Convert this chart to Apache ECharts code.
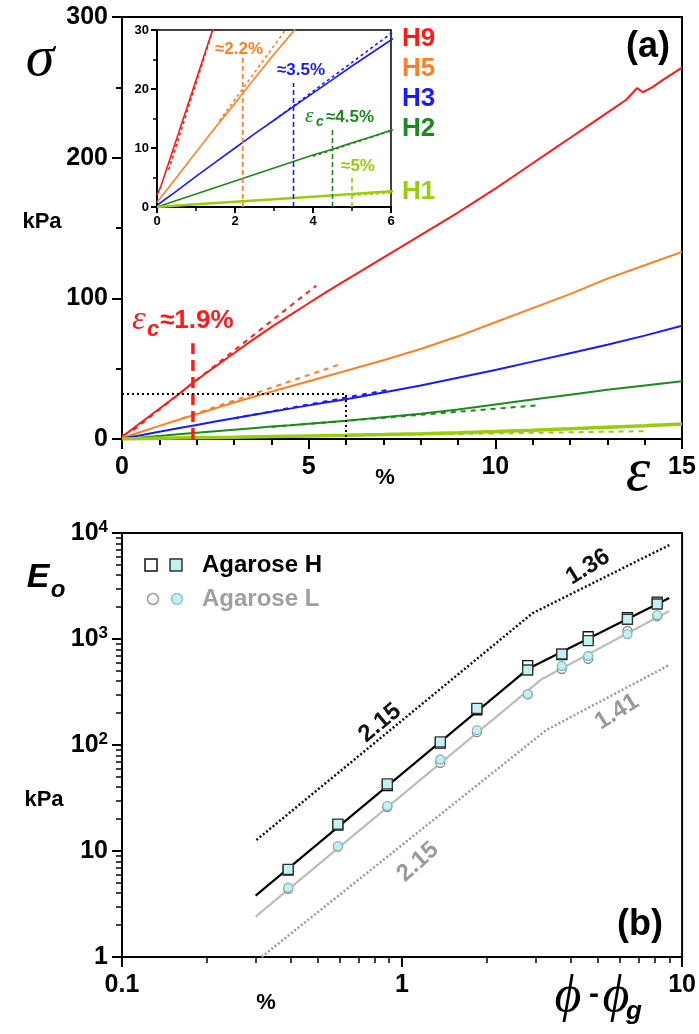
<!DOCTYPE html>
<html>
<head>
<meta charset="utf-8">
<title>Agarose gels: stress-strain and modulus</title>
<script src="https://cdn.jsdelivr.net/npm/echarts@6/dist/echarts.min.js"></script>
<style>
  html, body { margin: 0; padding: 0; background: #fff; }
  #chart { width: 699px; height: 1034px; }
</style>
</head>
<body>
<div id="chart"></div>
<script>
// ---- (a) stress sigma (kPa) vs strain epsilon (%) for gels H9, H5, H3, H2, H1 ----
const H9 = [[0,2],[0.1,3.5],[0.5,11.5],[1,21.5],[1.5,31.5],[1.9,40],[2.5,51.5],[3,61],[3.5,70.5],[4,79.5],[4.5,88],[5,96.5],[5.5,105],[6,113],[6.5,121],[7,129],[7.5,137],[8,145],[8.5,153],[9,161],[9.5,169.5],[10,178],[10.5,187],[11,196],[11.5,205],[12,214],[12.5,223],[13,232],[13.5,241],[13.8,249.5],[13.95,246.5],[14.2,250],[14.5,255.5],[15,264]];
const H5 = [[0,0.8],[0.5,5],[1,9.3],[1.5,13.5],[2,17.6],[2.5,21.8],[3,25.9],[3.5,29.8],[4,33.6],[5,41],[6,48.5],[7,56],[8,64],[9,73],[10,83],[11,93],[12,103],[13,114],[14,123.5],[15,133]];
const H3 = [[0,0.3],[0.5,2.7],[1,5.2],[1.5,7.6],[2,10],[2.5,12.4],[3,14.7],[3.5,17],[4,19.3],[4.5,21.6],[5,23.9],[5.5,26.1],[6,28.3],[7,33],[8,38],[9,43.5],[10,49],[11,55],[12,61],[13,67],[14,73.5],[15,80.5]];
const H2 = [[0,0],[0.5,1.1],[1,2.2],[1.5,3.3],[2,4.4],[2.5,5.5],[3,6.6],[3.5,7.7],[4,8.8],[4.5,9.8],[5,10.9],[5.5,11.9],[6,13],[7,15.5],[8,18],[9,21],[10,24.5],[11,28],[12,31.5],[13,35],[14,38],[15,41]];
const H1 = [[0,0],[1,0.45],[2,0.9],[3,1.3],[4,1.75],[5,2.2],[6,2.65],[7,3.2],[8,3.8],[9,4.5],[10,5.3],[11,6.2],[12,7.2],[13,8.3],[14,9.4],[15,10.6]];

// initial linear (tangent) fits
const tangentH9 = [[0.3,6.3],[5.2,109]];
const tangentH5 = [[1.6,14.6],[5.9,53.7]];
const tangentH3 = [[3,14.7],[7.2,35.3]];
const tangentH2 = [[4,8.6],[11.2,24.1]];
const tangentH1 = [[5,2],[14.1,5.6]];

// critical strain (%) and the height of its marker (kPa), H9, H5, H3, H2, H1
const critStrain = [1.9, 2.2, 3.5, 4.5, 5];
const critMarkTop = [68, 25.8, 21, 13.5, 5.5];

// dotted frame showing the zoomed window
const zoomWindow = [[0,32],[6,32],[6,0]];

const gelNames = ['H9','H5','H3','H2','H1'];

// ---- (b) modulus E_o (kPa) vs phi - phi_g (%) ----
const phiExcess = [0.392, 0.59, 0.886, 1.37, 1.85, 2.81, 3.72, 4.62, 6.38, 8.15];
const modH_open = [6.6, 17.6, 41.5, 104, 215, 560, 712, 1050, 1590, 2230];
const modH_fill = [6.7, 17.9, 42.9, 107, 222, 510, 722, 964, 1535, 2138];
const modL_open = [4.4, 11.0, 26, 68, 132, 300, 521, 650, 1190, 1640];
const modL_fill = [4.5, 11.1, 26.6, 73, 138, 302, 556, 691, 1114, 1683];

const fitH = [[0.3,3.8],[2.81,520],[9.0,2440]];
const fitL = [[0.3,2.4],[3.16,420],[9.0,1840]];
const scalingUpper = [[0.302,12.7],[2.92,1747],[9.0,7700]];
const scalingLower = [[0.315,1],[3.27,138],[9.0,569]];
const slopeTexts = ['2.15', '1.36', '2.15', '1.41'];

const logXLabels = ['0.1', '1', '10'];
const logYLabels = ['1', '10', '10{s|2}', '10{s|3}', '10{s|4}'];
const minorDecadeSteps = [2,3,4,5,6,7,8,9];

// ---- styling ----
const SANS = '"Liberation Sans", Arial, Helvetica, sans-serif';
const SERIF = '"Liberation Serif", "Times New Roman", "DejaVu Serif", serif';
const gelColors = ['#ff1a1a', '#ff7f24', '#1a1aff', '#1c8a1c', '#9acc0a'];
const TICK_FONT = 25;

const chart = echarts.init(document.getElementById('chart'));

function curve(data, color, width, xi, yi, dash, z) {
  return {
    type: 'line', data: data, xAxisIndex: xi, yAxisIndex: yi,
    showSymbol: false, symbol: 'none', silent: true, animation: false,
    lineStyle: { color: color, width: width, type: dash || 'solid' },
    z: z || 2
  };
}

const black = '#000';
function valAxis(grid, min, max, interval, minorSplit, fontSize, opts) {
  const big = fontSize > 16;
  return Object.assign({
    gridIndex: grid, type: 'value', min: min, max: max, interval: interval,
    axisLine: { show: true, onZero: false, lineStyle: { color: black, width: 2 } },
    axisTick: { show: true, length: big ? 10 : 6, lineStyle: { color: black, width: 2 } },
    minorTick: { show: true, splitNumber: minorSplit, length: big ? 6 : 4, lineStyle: { color: black, width: big ? 2 : 1.5 } },
    splitLine: { show: false },
    axisLabel: { color: black, fontFamily: SANS, fontWeight: 'bold', fontSize: fontSize, margin: big ? 16 : 8 }
  }, opts || {});
}

const supRich = { s: { fontSize: 17, fontWeight: 'bold', fontFamily: SANS, color: black, padding: [0, 0, 12, 0], verticalAlign: 'bottom' } };

const logAxisBase = {
  gridIndex: 2, type: 'log', logBase: 10,
  axisLine: { show: true, onZero: false, lineStyle: { color: black, width: 2 } },
  axisTick: { show: true, length: 10, lineStyle: { color: black, width: 2 } },
  splitLine: { show: false }
};

// minor tick positions (log10 units) at 2..9 of every decade
const xMinorLog = [];
[-1, 0].forEach(d => minorDecadeSteps.forEach(k => xMinorLog.push(d + Math.log10(k))));
const yMinorLog = [];
[0, 1, 2, 3].forEach(d => minorDecadeSteps.forEach(k => yMinorLog.push(d + Math.log10(k))));

const xAxes = [
  valAxis(0, 0, 15, 5, 5, TICK_FONT),
  valAxis(1, 0, 6, 2, 2, 13),
  Object.assign({}, logAxisBase, {
    min: 0.1, max: 10, position: 'bottom',
    axisLabel: { color: black, fontFamily: SANS, fontWeight: 'bold', fontSize: TICK_FONT, margin: 16,
      formatter: v => logXLabels[Math.round(Math.log10(v)) + 1] }
  }),
  { gridIndex: 2, type: 'value', min: -1, max: 1, position: 'bottom',
    axisLine: { show: false, onZero: false }, axisLabel: { show: false }, splitLine: { show: false },
    axisTick: { show: true, length: 6, customValues: xMinorLog, lineStyle: { color: black, width: 1.5 } } }
];
const yAxes = [
  valAxis(0, 0, 300, 100, 2, TICK_FONT, { axisLabel: { color: black, fontFamily: SANS, fontWeight: 'bold', fontSize: TICK_FONT, margin: 14 } }),
  valAxis(1, 0, 30, 10, 2, 13),
  Object.assign({}, logAxisBase, {
    min: 1, max: 10000, position: 'left',
    axisLabel: { color: black, fontFamily: SANS, fontWeight: 'bold', fontSize: TICK_FONT, margin: 14, rich: supRich,
      formatter: v => logYLabels[Math.round(Math.log10(v))] }
  }),
  { gridIndex: 2, type: 'value', min: 0, max: 4, position: 'left',
    axisLine: { show: false, onZero: false }, axisLabel: { show: false }, splitLine: { show: false },
    axisTick: { show: true, length: 6, customValues: yMinorLog, lineStyle: { color: black, width: 1.5 } } }
];

// ---- series ----
const series = [];
const gelData = [H9, H5, H3, H2, H1];
const tangents = [tangentH9, tangentH5, tangentH3, tangentH2, tangentH1];

// main panel
gelData.forEach((d, i) => series.push(curve(d, gelColors[i], i === 4 ? 3.5 : 2, 0, 0)));
tangents.forEach((d, i) => series.push(curve(d, gelColors[i], 2, 0, 0, [5, 5], 1)));
series.push(curve([[critStrain[0], 0], [critStrain[0], critMarkTop[0]]], gelColors[0], 3.5, 0, 0, [11, 6], 3));
series.push(curve(zoomWindow, black, 2, 0, 0, [2, 3], 3));

// zoomed inset
gelData.forEach((d, i) => series.push(curve(d, gelColors[i], i === 4 ? 2.5 : 1.6, 1, 1, 'solid', 4)));
tangents.forEach((d, i) => series.push(curve(d, gelColors[i], 1.6, 1, 1, [3, 3], 4)));
for (let i = 1; i < critStrain.length; i++) {
  series.push(curve([[critStrain[i], 0], [critStrain[i], critMarkTop[i]]], gelColors[i], 1.6, 1, 1, [5, 3], 4));
}

// panel (b)
series.push(curve(scalingUpper, '#111', 2.5, 2, 2, [2, 2.2], 2));
series.push(curve(scalingLower, '#9a9a9a', 2.5, 2, 2, [2, 2.2], 2));
series.push(curve(fitL, '#bdbdbd', 2.2, 2, 2, 'solid', 3));
series.push(curve(fitH, '#000', 2.2, 2, 2, 'solid', 3));

function markers(values, symbol, size, fill, stroke) {
  return {
    type: 'scatter', xAxisIndex: 2, yAxisIndex: 2, silent: true, animation: false,
    data: phiExcess.map((x, i) => [x, values[i]]),
    symbol: symbol, symbolSize: size,
    itemStyle: { color: fill, borderColor: stroke, borderWidth: 1.3, opacity: 1 },
    z: 5
  };
}
series.push(markers(modL_open, 'circle', 9, '#ffffff', '#8c8c8c'));
series.push(markers(modL_fill, 'circle', 9, '#bff0f3', '#8fb5bb'));
series.push(markers(modH_open, 'rect', 10, '#ffffff', '#111111'));
series.push(markers(modH_fill, 'rect', 10, '#c2f3f3', '#333333'));

// ---- free text ----
function txt(text, x, y, font, fill, align, rot) {
  return {
    type: 'text', x: x, y: y, rotation: rot || 0, silent: true, z: 50,
    style: { text: text, font: font, fill: fill || black,
      align: align || 'center', textAlign: align || 'center',
      verticalAlign: 'middle', textVerticalAlign: 'middle' }
  };
}
const B = (s) => 'bold ' + s + 'px ' + SANS;
const deg = Math.PI / 180;

const graphics = [
  // panel (a)
  txt('\u03c3', 40, 60, 'italic 58px ' + SERIF),
  txt('kPa', 42, 222, B(22)),
  txt('(a)', 648, 47, B(36)),
  txt('%', 385, 478, B(22)),
  txt('\u03b5', 638, 474, 'italic 62px ' + SERIF),
  txt(gelNames[0], 402, 39, B(26), gelColors[0], 'left'),
  txt(gelNames[1], 402, 69, B(26), gelColors[1], 'left'),
  txt(gelNames[2], 402, 99, B(26), gelColors[2], 'left'),
  txt(gelNames[3], 402, 129, B(26), gelColors[3], 'left'),
  txt(gelNames[4], 402, 192, B(26), gelColors[4], 'left'),
  // critical strain labels
  txt('\u03b5', 132, 320, 'italic 34px ' + SERIF, gelColors[0], 'left'),
  txt('c', 147, 330, 'italic bold 22px ' + SANS, gelColors[0], 'left'),
  txt('\u2248' + critStrain[0] + '%', 160, 321, B(26), gelColors[0], 'left'),
  txt('\u2248' + critStrain[1] + '%', 239, 49, B(17), gelColors[1]),
  txt('\u2248' + critStrain[2] + '%', 301, 70, B(17), gelColors[2]),
  txt('\u03b5', 305, 116, 'italic 22px ' + SERIF, gelColors[3], 'left'),
  txt('c', 316, 122, 'italic bold 14px ' + SANS, gelColors[3], 'left'),
  txt('\u2248' + critStrain[3] + '%', 326, 117, B(17), gelColors[3], 'left'),
  txt('\u2248' + critStrain[4] + '%', 358, 166, B(17), gelColors[4]),
  // panel (b)
  txt('E', 38, 578, 'italic bold 34px ' + SANS),
  txt('o', 58, 590, 'italic bold 24px ' + SANS),
  txt('kPa', 44, 800, B(22)),
  txt('(b)', 640, 925, B(36)),
  txt('%', 266, 1003, B(22)),
  txt('\u03d5', 568, 997, 'italic 52px ' + SERIF),
  txt('-', 594, 995, B(30)),
  txt('\u03d5', 616, 997, 'italic 52px ' + SERIF),
  txt('g', 634, 1012, 'italic bold 26px ' + SANS),
  txt(slopeTexts[0], 380, 723, B(24), '#111', 'center', 40 * deg),
  txt(slopeTexts[1], 588, 567, B(24), '#111', 'center', 32 * deg),
  txt(slopeTexts[2], 418, 862, B(24), '#9a9a9a', 'center', 42 * deg),
  txt(slopeTexts[3], 617, 712, B(24), '#9a9a9a', 'center', 32 * deg),
  // legend
  { type: 'rect', shape: { x: 145, y: 559, width: 12, height: 12 }, style: { fill: '#fff', stroke: '#111', lineWidth: 1.5 }, z: 50 },
  { type: 'rect', shape: { x: 170, y: 559, width: 12, height: 12 }, style: { fill: '#c2f3f3', stroke: '#333', lineWidth: 1.5 }, z: 50 },
  txt('Agarose H', 202, 565, B(24), '#000', 'left'),
  { type: 'circle', shape: { cx: 153, cy: 599, r: 5.5 }, style: { fill: '#fff', stroke: '#9a9a9a', lineWidth: 1.5 }, z: 50 },
  { type: 'circle', shape: { cx: 177, cy: 599, r: 5.5 }, style: { fill: '#bff0f3', stroke: '#9fc3c8', lineWidth: 1.5 }, z: 50 },
  txt('Agarose L', 202, 599, B(24), '#a0a0a0', 'left')
];

chart.setOption({
  animation: false,
  backgroundColor: '#fff',
  grid: [
    { left: 122, top: 17, width: 560, height: 422, show: true, borderColor: black, borderWidth: 2, backgroundColor: 'transparent', containLabel: false },
    { left: 157, top: 30, width: 234, height: 177, show: true, borderColor: black, borderWidth: 1.5, backgroundColor: '#fff', containLabel: false },
    { left: 122, top: 533, width: 561, height: 424, show: true, borderColor: black, borderWidth: 2, backgroundColor: 'transparent', containLabel: false }
  ],
  xAxis: xAxes,
  yAxis: yAxes,
  series: series,
  graphic: graphics
});
</script>
</body>
</html>
